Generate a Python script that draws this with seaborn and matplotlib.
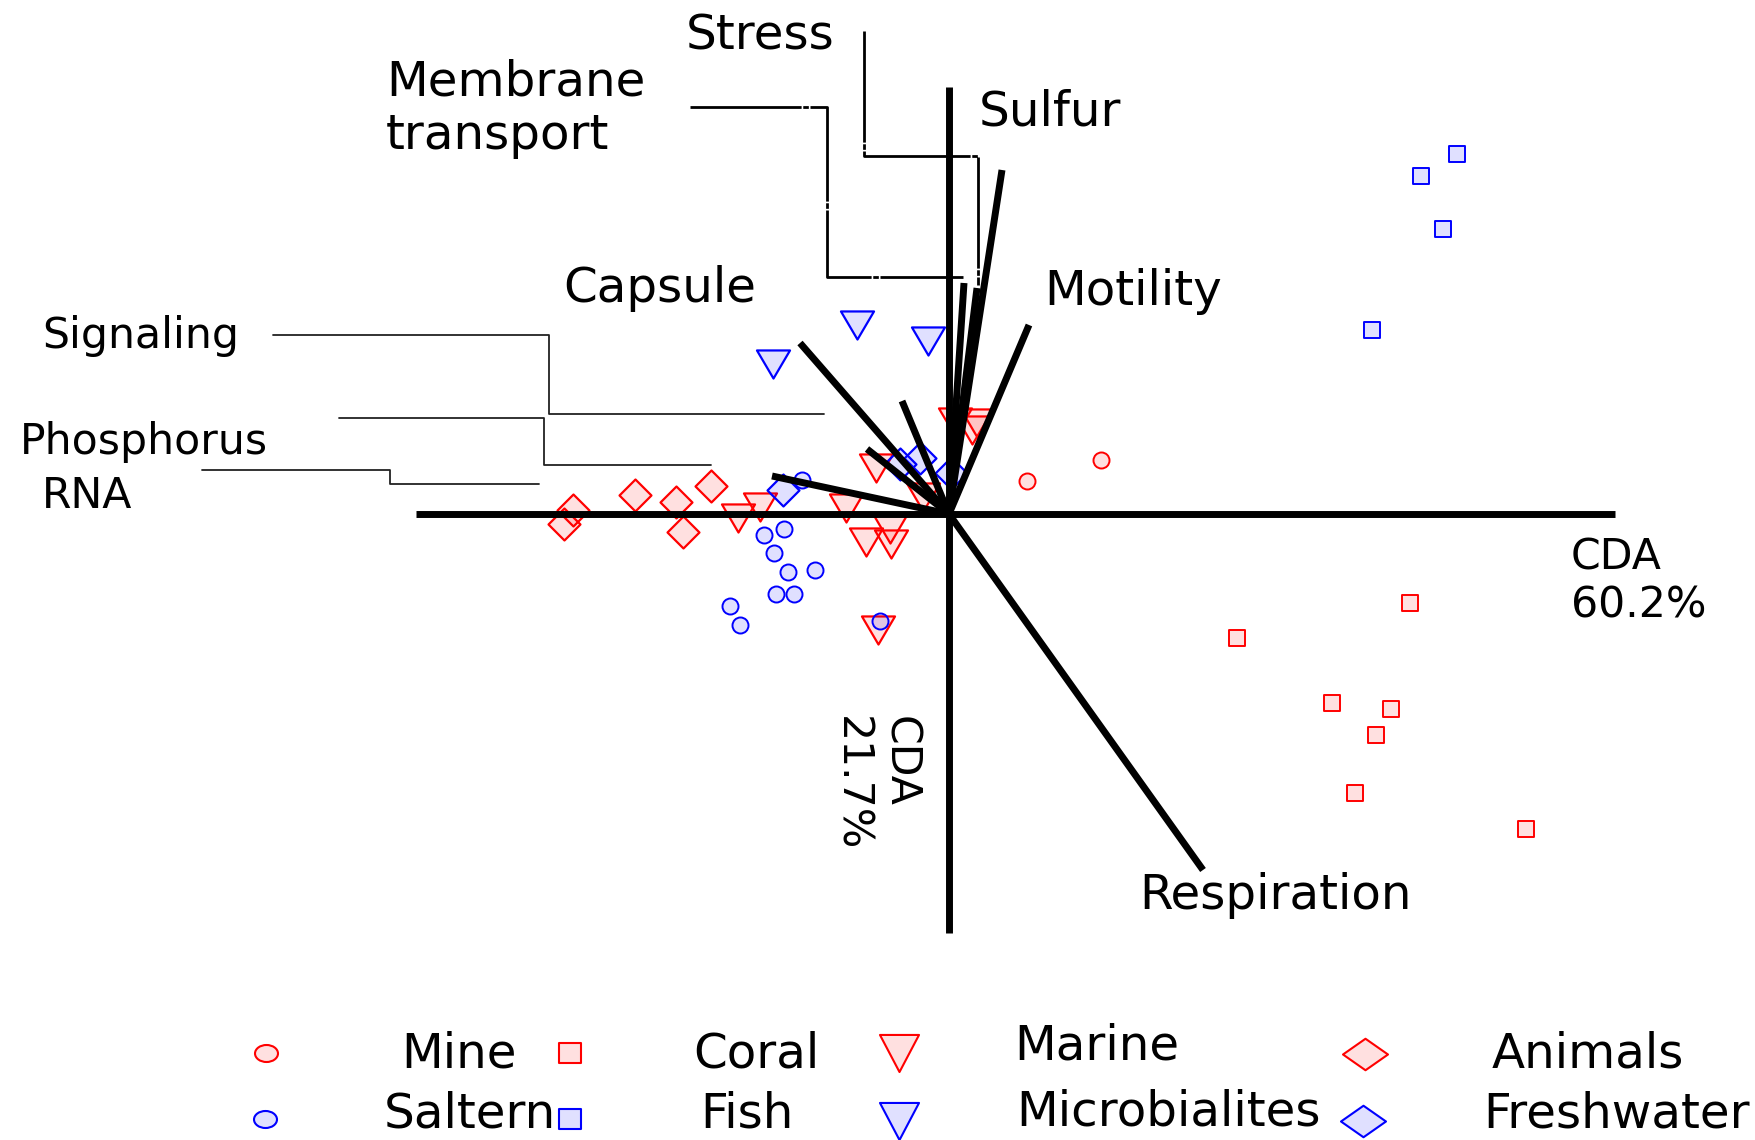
import numpy as np
import pandas as pd
import matplotlib
matplotlib.use("Agg")
import matplotlib.pyplot as plt
from matplotlib.path import Path
from matplotlib.transforms import Affine2D
import seaborn as sns

sns.set_theme(style="white")
plt.rcParams["font.family"] = ["DejaVu Sans"]
plt.rcParams["text.color"] = "black"

# ---------------------------------------------------------------- data
# Sample scores on the first two canonical axes, per environment
mine_x = [0.78, 1.52]
mine_y = [0.33, 0.54]
saltern_x = [-1.47, -1.85, -1.65, -1.75, -1.61, -1.34, -1.73, -1.55, -2.19, -2.09, -0.69]
saltern_y = [0.34, -0.21, -0.15, -0.39, -0.58, -0.56, -0.80, -0.80, -0.92, -1.11, -1.07]
coral_x = [2.88, 4.61, 3.83, 4.42, 4.27, 4.06, 5.77]
coral_y = [-1.24, -0.89, -1.89, -1.95, -2.21, -2.79, -3.15]
fish_x = [5.08, 4.72, 4.94, 4.23]
fish_y = [3.60, 3.38, 2.85, 1.84]
marine_x = [-2.11, -1.89, -1.03, -0.73, -0.59, -0.83, -0.58, -0.71, -0.26, 0.28, 0.23, 0.06]
marine_y = [-0.04, 0.07, 0.06, 0.46, -0.15, -0.28, -0.30, -1.16, 0.17, 0.91, 0.84, 0.92]
microbialites_x = [-1.76, -0.92, -0.21]
microbialites_y = [1.50, 1.89, 1.73]
animals_x = [-3.14, -2.73, -2.38, -2.66, -3.76, -3.85]
animals_y = [0.19, 0.12, 0.28, -0.18, 0.04, -0.10]
freshwater_x = [-1.66, -0.49, -0.29, 0.02]
freshwater_y = [0.24, 0.50, 0.56, 0.41]

# Functional category loadings (vector end points)
func_names = ["Sulfur", "Stress", "Membrane transport", "Motility", "Capsule",
              "Signaling", "Phosphorus", "RNA", "Respiration"]
func_x = [0.53, 0.28, 0.15, 0.80, -1.49, -0.47, -0.82, -1.77, 2.54]
func_y = [3.44, 2.26, 2.31, 1.89, 1.71, 1.13, 0.65, 0.38, -3.56]

axis1_label = "CDA\n60.2%"
axis2_label = "CDA\n21.7%"
axis1_range = [-5.33, 6.66]
axis2_range = [-4.19, 4.27]

# ---------------------------------------------------------------- layout helpers
W, H = 1755, 1140
OX, OY, SCALE = 949, 514, 100.0


def px(x, y):
    """Convert a figure pixel position into the score coordinates of the axes."""
    return (x - OX) / SCALE, (OY - y) / SCALE


def poly_marker(verts):
    return Path(np.array(verts + [verts[0]]), closed=True)


tri_plot = poly_marker([(-1, 0.85), (1, 0.85), (0, -0.85)])
diamond_plot = poly_marker([(0, 1), (1, 0), (0, -1), (-1, 0)])
tri_leg = poly_marker([(-1, 0.95), (1, 0.95), (0, -0.95)])
diamond_leg = poly_marker([(0, 0.7), (1, 0), (0, -0.7), (-1, 0)])
square_leg = poly_marker([(-1, -0.83), (1, -0.83), (1, 0.83), (-1, 0.83)])
ellipse_leg = Path.unit_circle().transformed(Affine2D().scale(1.0, 0.74))

RED, BLUE = "#ff0000", "#0000ff"
RED_FACE = (1.0, 0.0, 0.0, 0.12)
BLUE_FACE = (0.0, 0.0, 1.0, 0.12)

fig = plt.figure(figsize=(W / 100, H / 100), dpi=100)
ax = fig.add_axes([0, 0, 1, 1])
ax.set_xlim(-OX / SCALE, (W - OX) / SCALE)
ax.set_ylim(-(H - OY) / SCALE, OY / SCALE)
ax.axis("off")

groups = [
    ("Marine", marine_x, marine_y, tri_plot, 566, RED, RED_FACE, 1.6),
    ("Microbialites", microbialites_x, microbialites_y, tri_plot, 566, BLUE, BLUE_FACE, 1.6),
    ("Animals", animals_x, animals_y, diamond_plot, 530, RED, RED_FACE, 1.6),
    ("Freshwater", freshwater_x, freshwater_y, diamond_plot, 530, BLUE, BLUE_FACE, 1.6),
    ("Mine", mine_x, mine_y, "o", 133, RED, RED_FACE, 1.4),
    ("Saltern", saltern_x, saltern_y, "o", 133, BLUE, BLUE_FACE, 1.4),
    ("Coral", coral_x, coral_y, "s", 133, RED, RED_FACE, 1.4),
    ("Fish", fish_x, fish_y, "s", 133, BLUE, BLUE_FACE, 1.4),
]

for name, xs, ys, mk, size, ec, fc, lw in groups:
    df = pd.DataFrame({"CDA1": xs, "CDA2": ys})
    sns.scatterplot(data=df, x="CDA1", y="CDA2", marker=mk, s=size,
                    facecolor=fc, edgecolor=ec, linewidth=lw, ax=ax,
                    legend=False, zorder=3)

# canonical axes
ax.plot(axis1_range, [0, 0], color="black", lw=5, solid_capstyle="butt", zorder=4)
ax.plot([0, 0], axis2_range, color="black", lw=5, solid_capstyle="butt", zorder=4)

# loading vectors
for fx, fy in zip(func_x, func_y):
    ax.plot([0, fx], [0, fy], color="black", lw=5, solid_capstyle="butt", zorder=5)

# leader lines from the labels to the vectors
thin_leaders = [
    [(273, 334.5), (548.8, 334.5), (548.8, 414), (824, 414)],
    [(339, 417.5), (543.6, 417.5), (543.6, 465), (711, 465)],
    [(201.8, 470), (389.6, 470), (389.6, 484), (539.3, 484)],
]
bold_leaders = [
    [(689.7, 107), (826.9, 107), (826.9, 277), (963.3, 277)],
    [(863.6, 31.5), (863.6, 156.5), (978, 156.5), (978, 285)],
]
for pts in thin_leaders:
    xy = np.array([px(*p) for p in pts])
    ax.plot(xy[:, 0], xy[:, 1], color="#222222", lw=1.3, zorder=2)
for pts in bold_leaders:
    xy = np.array([px(*p) for p in pts])
    ax.plot(xy[:, 0], xy[:, 1], color="black", lw=2.0, zorder=2,
            dashes=(40, 0.6, 2, 0.6))

# vector labels
big, small = 34.8, 30.7
labels = [
    ("Stress", 686, 49, big),
    ("Membrane", 386, 96, big),
    ("transport", 386, 149, big),
    ("Sulfur", 979, 126, big),
    ("Capsule", 563, 302, big),
    ("Motility", 1044, 305, big),
    ("Signaling", 42, 348, small),
    ("Phosphorus", 20, 454, small),
    ("RNA", 42, 508, small),
    ("Respiration", 1139, 909, big),
]
for txt, x, y, fs in labels:
    ax.text(*px(x, y), txt, fontsize=fs, ha="left", va="baseline", zorder=6)

# axis titles
a1_top, a1_bottom = axis1_label.split("\n")
ax.text(*px(1571, 570), a1_top, fontsize=small, ha="left", va="baseline")
ax.text(*px(1571, 618), a1_bottom, fontsize=small, ha="left", va="baseline")
ax.text(*px(876, 716), axis2_label, fontsize=small, rotation=270,
        ha="center", va="top", multialignment="left", linespacing=1.2)

# legend
legend_items = [
    ("Mine", ellipse_leg, 274, RED, RED_FACE, 266, 1053, 401, 1068),
    ("Saltern", ellipse_leg, 274, BLUE, BLUE_FACE, 265, 1119, 384, 1128),
    ("Coral", square_leg, 274, RED, RED_FACE, 570, 1053, 693, 1068),
    ("Fish", square_leg, 274, BLUE, BLUE_FACE, 570, 1119, 700, 1128),
    ("Marine", tri_leg, 790, RED, RED_FACE, 899, 1053, 1014, 1059),
    ("Microbialites", tri_leg, 790, BLUE, BLUE_FACE, 899, 1121, 1016, 1125),
    ("Animals", diamond_leg, 1050, RED, RED_FACE, 1365, 1054, 1492, 1068),
    ("Freshwater", diamond_leg, 1050, BLUE, BLUE_FACE, 1363, 1121, 1483, 1128),
]
for name, mk, size, ec, fc, mx, my, tx, ty in legend_items:
    lx, ly = px(mx, my)
    ax.scatter([lx], [ly], marker=mk, s=size, facecolor=fc, edgecolor=ec,
               linewidth=1.5, zorder=3, clip_on=False)
    ax.text(*px(tx, ty), name, fontsize=big, ha="left", va="baseline")

fig.savefig("out.png", dpi=100)
